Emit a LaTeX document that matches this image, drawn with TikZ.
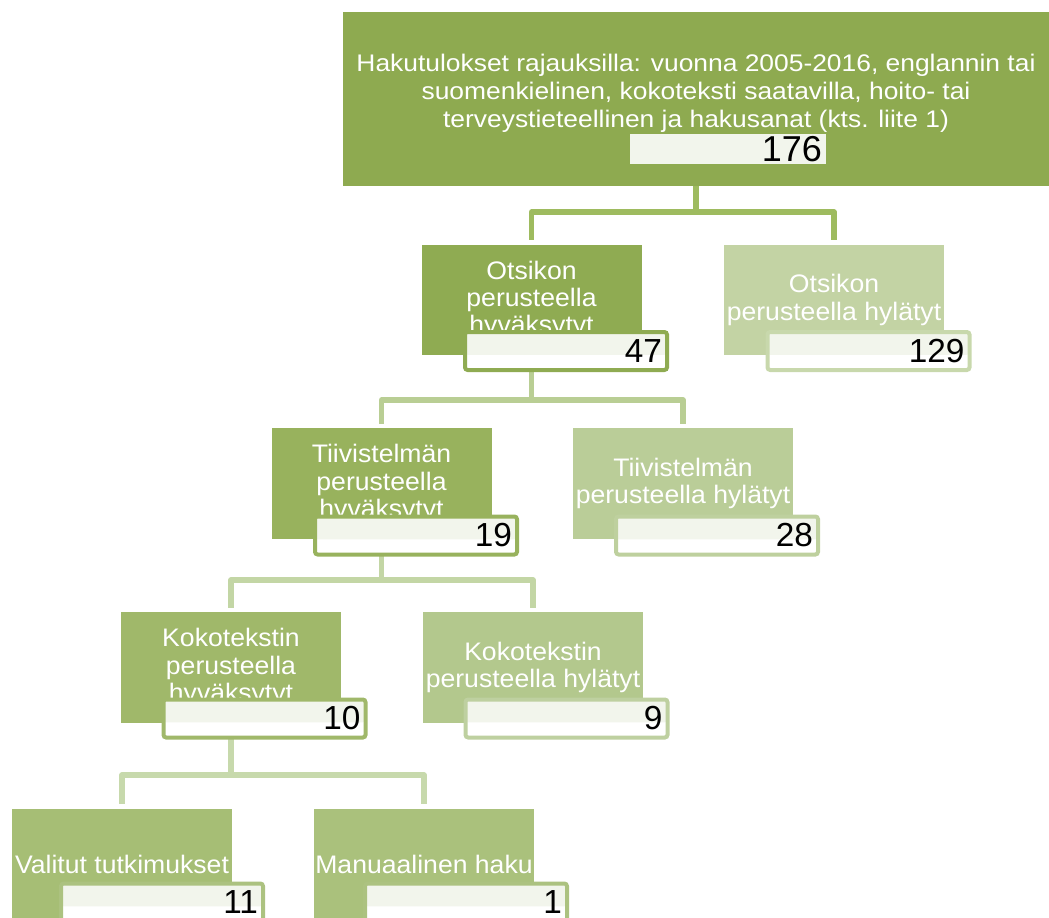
\documentclass[tikz,border=0pt]{standalone}
\usepackage{fontspec}
\setmainfont{Liberation Sans}
\newfontfamily\stagefont[FakeStretch=1.05]{Liberation Sans}
\newfontfamily\rootfont[FakeStretch=1.1]{Liberation Sans}
\usetikzlibrary{calc}

\definecolor{rootgreen}{RGB}{142,170,80}
\definecolor{keepB}{RGB}{143,171,82}
\definecolor{keepC}{RGB}{152,178,93}
\definecolor{keepD}{RGB}{160,184,106}
\definecolor{keepE}{RGB}{166,190,117}
\definecolor{keepF}{RGB}{170,193,124}
\definecolor{dropB}{RGB}{195,211,164}
\definecolor{dropC}{RGB}{186,205,152}
\definecolor{dropD}{RGB}{179,200,141}
\definecolor{rimdropB}{RGB}{200,216,172}
\definecolor{rimdropC}{RGB}{190,208,158}
\definecolor{rimdropD}{RGB}{190,208,160}
\definecolor{rimE}{RGB}{172,194,128}
\definecolor{linkA}{RGB}{158,187,95}
\definecolor{linkB}{RGB}{185,206,148}
\definecolor{linkC}{RGB}{195,214,165}
\definecolor{linkD}{RGB}{199,217,172}
\definecolor{numtint}{RGB}{242,245,236}

\begin{document}
\begin{tikzpicture}[x=0.75pt, y=-0.75pt,
  stage/.style={rectangle, fill=#1, minimum width=165pt, minimum height=83pt,
    inner sep=0pt, align=center, text=white,
    font=\stagefont\fontsize{19}{20.5}\selectfont},
  count/.style={rectangle, draw=#1, line width=3pt, rounded corners=2pt,
    fill=white, minimum width=151.5pt, minimum height=28.5pt,
    inner xsep=3pt, inner ysep=0pt, text width=144pt, align=right,
    font=\fontsize{25}{25}\selectfont,
    path picture={\fill[numtint] (path picture bounding box.north west) rectangle
      ($(path picture bounding box.north east)!0.6!(path picture bounding box.south east)$);}},
  countroot/.style={rectangle, fill=numtint, minimum width=147pt,
    minimum height=22.5pt, inner xsep=3pt, inner ysep=0pt, text width=141pt,
    align=right, font=\fontsize{27}{27}\selectfont},
  link/.style={draw=#1, line width=4pt, line join=round}
]
\useasboundingbox (0,0) rectangle (1049,917);
\clip (0,0) rectangle (1049,917);

\node[stage=rootgreen, minimum width=529.5pt, minimum height=130.5pt] (root) at (696,99) {};
\begin{scope}
\clip (343,12) rectangle (1049,131);
\node[align=center, text=white, font=\rootfont\fontsize{18}{21}\selectfont] (roottext) at (696,93)
  {Hakutulokset rajauksilla: vuonna 2005-2016, englannin tai\\
   suomenkielinen, kokoteksti saatavilla, hoito- tai\\
   terveystieteellinen ja hakusanat (kts. liite 1)};
\end{scope}

\node[stage=keepB] (l2a) at (531.5,300) {Otsikon\\perusteella\\hyväksytyt};
\node[stage=dropB] (l2b) at (834,300) {Otsikon\\perusteella hylätyt};
\node[stage=keepC] (l3a) at (381.5,483.5) {Tiivistelmän\\perusteella\\hyväksytyt};
\node[stage=dropC] (l3b) at (683,483.5) {Tiivistelmän\\perusteella hylätyt};
\node[stage=keepD] (l4a) at (231,667.5) {Kokotekstin\\perusteella\\hyväksytyt};
\node[stage=dropD] (l4b) at (533,667.5) {Kokotekstin\\perusteella hylätyt};
\node[stage=keepE] (l5a) at (122,864) {Valitut tutkimukset};
\node[stage=keepF] (l5b) at (424,864) {Manuaalinen haku};

\coordinate (fork1) at (696,212);
\coordinate (fork2) at (531.5,400);
\coordinate (fork3) at (381.5,580);
\coordinate (fork4) at (231,775);
\draw[link=linkA] (root.south) -- (fork1) -| ([yshift=3pt]l2a.north);
\draw[link=linkA] (fork1) -| ([yshift=3pt]l2b.north);
\draw[link=linkB] (l2a.south) -- (fork2) -| ([yshift=3pt]l3a.north);
\draw[link=linkB] (fork2) -| ([yshift=3pt]l3b.north);
\draw[link=linkC] (l3a.south) -- (fork3) -| ([yshift=3pt]l4a.north);
\draw[link=linkC] (fork3) -| ([yshift=3pt]l4b.north);
\draw[link=linkD] (l4a.south) -- (fork4) -| ([yshift=3pt]l5a.north);
\draw[link=linkD] (fork4) -| ([yshift=3pt]l5b.north);

\node[countroot] (n1) at (728,149) {176};
\node[count=keepB] (n2a) at (566,351) {47};
\node[count=rimdropB] (n2b) at (868.5,351) {129};
\node[count=keepC] (n3a) at (416,535.5) {19};
\node[count=rimdropC] (n3b) at (717,535.5) {28};
\node[count=keepD] (n4a) at (264.5,718.5) {10};
\node[count=rimdropD] (n4b) at (566.5,718.5) {9};
\node[count=rimE] (n5a) at (162,902.5) {11};
\node[count=rimE] (n5b) at (466,902.5) {1};
\end{tikzpicture}
\end{document}
